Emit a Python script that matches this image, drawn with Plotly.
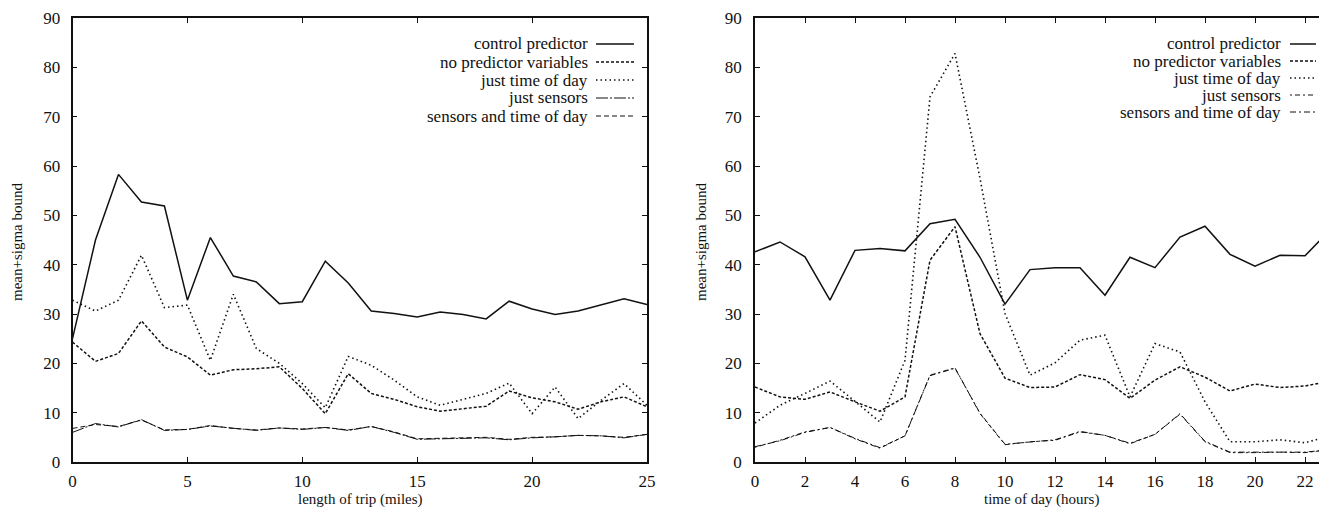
import plotly.graph_objects as go

# ---------------- data ----------------
trip_miles = list(range(0, 26))
trip_control = [25.0, 45.0, 58.3, 52.7, 51.9, 32.8, 45.5, 37.7, 36.5, 32.1, 32.5, 40.7, 36.3,
                30.6, 30.1, 29.4, 30.4, 29.9, 29.0, 32.6, 31.0, 29.9, 30.6, 31.8, 33.1, 31.9]
trip_nopred = [24.3, 20.4, 22.0, 28.6, 23.3, 21.3, 17.6, 18.7, 18.9, 19.3, 14.9, 9.8, 17.9,
               13.9, 12.7, 11.2, 10.3, 10.8, 11.3, 14.4, 13.0, 12.2, 10.7, 12.2, 13.2, 11.2]
trip_time = [32.8, 30.6, 32.8, 41.9, 31.3, 31.8, 20.6, 34.0, 23.0, 20.0, 15.9, 11.0, 21.4,
             19.6, 16.6, 13.2, 11.5, 12.7, 13.9, 16.0, 9.8, 15.2, 8.8, 12.5, 15.9, 11.5]
trip_sensors = [6.0, 7.8, 7.1, 8.6, 6.4, 6.6, 7.3, 6.8, 6.4, 6.9, 6.6, 7.0, 6.4,
                7.2, 6.0, 4.6, 4.7, 4.9, 4.9, 4.5, 4.9, 5.1, 5.4, 5.3, 4.9, 5.6]
trip_sens_time = [6.8, 7.6, 7.2, 8.5, 6.5, 6.6, 7.4, 6.8, 6.5, 6.9, 6.7, 7.0, 6.5,
                  7.2, 6.1, 4.7, 4.8, 4.9, 5.0, 4.6, 5.0, 5.1, 5.4, 5.3, 5.0, 5.6]

hours = list(range(0, 24))
hour_control = [42.6, 44.6, 41.6, 32.8, 42.9, 43.3, 42.8, 48.3, 49.2, 41.5, 32.0, 39.0,
                39.4, 39.4, 33.8, 41.5, 39.4, 45.6, 47.8, 42.1, 39.7, 41.9, 41.8, 47.0]
hour_nopred = [15.2, 13.2, 12.7, 14.2, 12.2, 10.3, 13.2, 40.9, 47.7, 26.0, 17.0, 15.1,
               15.2, 17.7, 16.7, 12.9, 16.6, 19.3, 17.2, 14.4, 15.8, 15.1, 15.4, 16.4]
hour_time = [7.9, 11.5, 13.9, 16.4, 12.3, 8.1, 20.6, 74.0, 82.8, 57.5, 30.1, 17.6,
             20.1, 24.7, 25.7, 13.2, 24.0, 22.3, 12.2, 4.1, 4.1, 4.5, 3.9, 5.3]
hour_sensors = [3.0, 4.4, 6.1, 7.0, 4.7, 2.8, 5.3, 17.6, 19.1, 9.8, 3.5, 4.1,
                4.4, 6.1, 5.4, 3.7, 5.6, 9.7, 4.1, 1.9, 1.9, 2.0, 1.9, 2.5]
hour_sens_time = [3.1, 4.3, 6.0, 7.0, 4.8, 2.9, 5.3, 17.5, 19.0, 9.9, 3.6, 4.1,
                  4.5, 6.2, 5.4, 3.8, 5.6, 9.8, 4.2, 2.0, 2.0, 2.0, 2.0, 2.5]

series_names = ["control predictor", "no predictor variables", "just time of day",
                "just sensors", "sensors and time of day"]
y_ticks = [0, 10, 20, 30, 40, 50, 60, 70, 80, 90]
trip_ticks = [0, 5, 10, 15, 20, 25]
hour_ticks = [0, 2, 4, 6, 8, 10, 12, 14, 16, 18, 20, 22]

# ---------------- styling ----------------
OFF = 8                      # page body margin of the html page
W, H = 1327 - OFF, 507 - OFF
FONT = "Liberation Serif"
INK = "#111111"

def px_x(p):
    return (p - OFF) / W

def px_y(p):
    return 1 - (p - OFF) / H

left_styles = [
    dict(dash="solid", width=1.5),
    dict(dash="3px,2px", width=1.5),
    dict(dash="1.5px,3px", width=1.6),
    dict(dash="12px,2px,2px,2px", width=1.0),
    dict(dash="5px,3px", width=1.0),
]
right_styles = [
    dict(dash="solid", width=1.5),
    dict(dash="3px,2px", width=1.5),
    dict(dash="1.5px,3px", width=1.6),
    dict(dash="2px,3px,5px,3px", width=1.0),
    dict(dash="6px,3px,2px,3px", width=1.0),
]

fig = go.Figure()

trip_series = [trip_control, trip_nopred, trip_time, trip_sensors, trip_sens_time]
hour_series = [hour_control, hour_nopred, hour_time, hour_sensors, hour_sens_time]

for name, ys, st in zip(series_names, trip_series, left_styles):
    fig.add_trace(go.Scatter(x=trip_miles, y=ys, mode="lines", name=name, showlegend=False,
                             line=dict(color=INK, width=st["width"], dash=st["dash"]),
                             xaxis="x", yaxis="y"))
for name, ys, st in zip(series_names, hour_series, right_styles):
    fig.add_trace(go.Scatter(x=hours, y=ys, mode="lines", name=name, showlegend=False,
                             line=dict(color=INK, width=st["width"], dash=st["dash"]),
                             xaxis="x2", yaxis="y2"))

axis_common = dict(showgrid=False, zeroline=False, showline=True, linecolor=INK, linewidth=1.5,
                   mirror="ticks", ticks="inside", ticklen=5, tickwidth=1.2, tickcolor=INK,
                   tickfont=dict(family=FONT, size=17, color=INK), automargin=False)

y_dom = [px_y(462), px_y(18)]
fig.update_layout(
    width=W, height=H,
    margin=dict(l=0, r=0, t=0, b=0),
    paper_bgcolor="white", plot_bgcolor="white",
    showlegend=False,
    xaxis=dict(domain=[px_x(72.5), px_x(647)], range=[0, 25], tickvals=trip_ticks,
               anchor="y", ticklabelstandoff=3, **axis_common),
    yaxis=dict(domain=y_dom, range=[0, 90], tickvals=y_ticks, anchor="x",
               ticklabelstandoff=7, **axis_common),
    xaxis2=dict(domain=[px_x(755), 1.0], range=[0, 22.88], tickvals=hour_ticks,
                anchor="y2", ticklabelstandoff=3, **axis_common),
    yaxis2=dict(domain=y_dom, range=[0, 90], tickvals=y_ticks, anchor="x2",
                ticklabelstandoff=8, **axis_common),
)

TITLE_FONT = dict(family=FONT, size=15, color=INK)
LEG_FONT = dict(family=FONT, size=17, color=INK)
annotations = [
    dict(text="length of trip (miles)", x=px_x(360), y=px_y(499), xref="paper", yref="paper",
         showarrow=False, font=TITLE_FONT, xanchor="center", yanchor="middle"),
    dict(text="time of day (hours)", x=px_x(1041), y=px_y(499), xref="paper", yref="paper",
         showarrow=False, font=TITLE_FONT, xanchor="center", yanchor="middle"),
    dict(text="mean+sigma bound", x=px_x(17), y=px_y(242), xref="paper", yref="paper", textangle=-90,
         showarrow=False, font=TITLE_FONT, xanchor="center", yanchor="middle"),
    dict(text="mean+sigma bound", x=px_x(701), y=px_y(242), xref="paper", yref="paper", textangle=-90,
         showarrow=False, font=TITLE_FONT, xanchor="center", yanchor="middle"),
]

shapes = []
legend_specs = [
    (590, 596, 634, [44, 62, 80, 98, 116], left_styles),
    (1283, 1290, 1316, [44, 61, 78, 95, 112], right_styles),
]
for text_right, lx0, lx1, rows, styles in legend_specs:
    for name, row, st in zip(series_names, rows, styles):
        annotations.append(dict(text=name, x=px_x(text_right), y=px_y(row), xref="paper", yref="paper",
                                showarrow=False, xanchor="right", yanchor="middle",
                                font=LEG_FONT))
        shapes.append(dict(type="line", xref="paper", yref="paper",
                           x0=px_x(lx0), x1=px_x(lx1), y0=px_y(row), y1=px_y(row),
                           line=dict(color=INK, width=st["width"], dash=st["dash"])))

fig.update_layout(annotations=annotations, shapes=shapes)

fig.write_html("out.html")
